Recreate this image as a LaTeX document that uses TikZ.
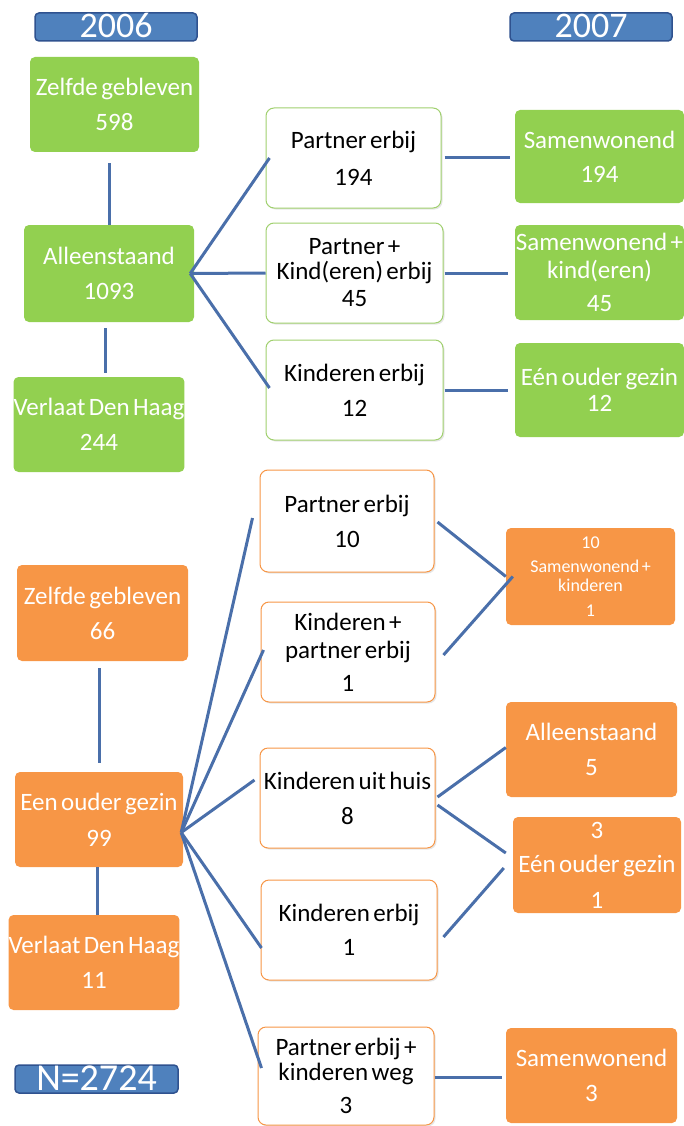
\documentclass[tikz,border=0pt]{standalone}
\usepackage{fontspec}
\setmainfont{Carlito}[WordSpace=0.6]
\usetikzlibrary{calc,shadows}
\definecolor{gr}{RGB}{146,208,80}
\definecolor{orng}{RGB}{247,150,70}
\definecolor{hdr}{RGB}{79,129,189}
\definecolor{hdrb}{RGB}{47,82,143}
\definecolor{ln}{RGB}{74,111,170}
\definecolor{grb}{RGB}{160,208,110}
\tikzset{
 base/.style={rectangle, rounded corners=5pt, align=center, inner sep=0pt, font=\fontsize{25}{26}\selectfont},
 gbox/.style={base, fill=gr, text=white},
 obox/.style={base, fill=orng, text=white},
 wbox/.style={base, fill=white, line width=1pt, rounded corners=8pt, text=black,
   drop shadow={opacity=0.2, shadow xshift=1.5pt, shadow yshift=-1.5pt}},
 wg/.style={wbox, draw=grb},
 wo/.style={wbox, draw=orng},
 hbox/.style={rectangle, rounded corners=4pt, fill=hdr, draw=hdrb, line width=1.5pt, text=white,
   font=\fontsize{36}{36}\selectfont, inner sep=0pt},
 conn/.style={draw=ln, line width=3pt},
}
\begin{document}
\begin{tikzpicture}[x=1pt,y=-1pt]
\useasboundingbox (0,0) rectangle (684,1126);
% headers
\node[hbox, minimum width=162pt, minimum height=28pt] (h06) at (116,27) {\raisebox{3pt}{2006}};
\node[hbox, minimum width=162pt, minimum height=28pt] (h07) at (591,27) {\raisebox{3pt}{2007}};
\node[hbox, minimum width=163pt, minimum height=28pt, font=\fontsize{38}{38}\selectfont] (hN) at (96.5,1079) {\raisebox{2pt}{N=2724}};
% upper left
\node[gbox, minimum width=169pt, minimum height=95pt] (zg) at (114.5,104.5) {Zelfde gebleven\\[9pt]598};
\node[gbox, minimum width=170pt, minimum height=97pt] (alle) at (109,273.5) {Alleenstaand\\[9pt]1093};
\node[gbox, minimum width=168pt, minimum height=95pt] (vl) at (99,424.5) {Verlaat Den Haag\\[9pt]244};
% upper middle
\node[wg, minimum width=175pt, minimum height=100pt] (pe) at (353.5,158) {Partner erbij\\[11pt]194};
\node[wg, minimum width=177pt, minimum height=100pt] (pk45) at (354.5,273) {Partner +\\[-1pt]Kind(eren) erbij\\[1pt]45};
\node[wg, minimum width=177pt, minimum height=100pt] (ke12) at (354.5,390) {Kinderen erbij\\[9pt]12};
% upper right
\node[gbox, minimum width=169pt, minimum height=93pt] (sw) at (599.5,156.5) {Samenwonend\\[8pt]194};
\node[gbox, minimum width=169pt, minimum height=95pt] (swk) at (599.5,272.5) {Samenwonend +\\[2pt]kind(eren)\\[7pt]45};
\node[gbox, minimum width=169pt, minimum height=94pt] (eo12) at (599.5,390) {Eén ouder gezin\\[0pt]12};
% lower left
\node[obox, minimum width=171pt, minimum height=96pt] (zg66) at (102.5,613) {Zelfde gebleven\\[9pt]66};
\node[obox, minimum width=168pt, minimum height=95pt] (eo99) at (99,819.5) {Een ouder gezin\\[10pt]99};
\node[obox, minimum width=170pt, minimum height=95pt] (vl11) at (94,962.5) {Verlaat Den Haag\\[9pt]11};
% lower middle
\node[wo, minimum width=174pt, minimum height=102pt] (pe10) at (347,521) {Partner erbij\\[9pt]10};
\node[wo, minimum width=174pt, minimum height=100pt] (kp1) at (348,652) {Kinderen +\\[2pt]partner erbij\\[7pt]1};
\node[wo, minimum width=175pt, minimum height=100pt] (kuh) at (347.5,798) {Kinderen uit huis\\[9pt]8};
\node[wo, minimum width=176pt, minimum height=100pt] (ke1) at (349,930) {Kinderen erbij\\[8pt]1};
\node[wo, minimum width=176pt, minimum height=98pt] (pkw) at (346,1076) {Partner erbij +\\[-1pt]kinderen weg\\[7pt]3};
% lower right
\node[obox, minimum width=169pt, minimum height=97pt, font=\fontsize{18}{19}\selectfont] (swk10) at (590.5,576.5) {10\\[5pt]Samenwonend +\\[0pt]kinderen\\[6pt]1};
\node[obox, minimum width=171pt, minimum height=95pt] (al5) at (591.5,749.5) {Alleenstaand\\[9pt]5};
\node[obox, minimum width=168pt, minimum height=96pt] (eo3) at (597,865) {3\\[8pt]Eén ouder gezin\\[10pt]1};
\node[obox, minimum width=171pt, minimum height=95pt] (sw3) at (591.5,1075.5) {Samenwonend\\[9pt]3};
% connectors upper
\draw[conn, shorten <=11pt] (alle.north |- zg.south) -- (alle.north);
\draw[conn, shorten <=6pt, shorten >=4pt] ($(alle.south)+(-4,0)$) -- ($(alle.south |- vl.north)+(-4,0)$);
\draw[conn] ($(alle.east)+(-4,0)$) -- ($(pe.west)+(4,0)$);
\draw[conn] ($(alle.east)+(-4,0)$) -- (pk45.west);
\draw[conn] ($(alle.east)+(-4,0)$) -- ($(ke12.west)+(4,-2)$);
\draw[conn, shorten <=3pt, shorten >=5pt] (pe.east) -- (pe.east -| sw.west);
\draw[conn, shorten <=1pt, shorten >=7pt] (pk45.east) -- (pk45.east -| swk.west);
\draw[conn, shorten <=1pt, shorten >=7pt] (ke12.east) -- (ke12.east -| eo12.west);
% connectors lower
\draw[conn, shorten <=7pt] (zg66.south -| eo99.north) -- ($(eo99.north)+(0,-9)$);
\draw[conn] ($(eo99.south)+(-2,0)$) -- ($(vl11.north)+(3,0)$);
\coordinate (fan) at ($(eo99.east)+(-2,13)$);
\draw[conn] (fan) -- ($(pe10.west)+(-7,-3)$);
\draw[conn] (fan) -- ($(kp1.west)+(3,-2)$);
\draw[conn] (fan) -- ($(kuh.west)+(-5,-18)$);
\draw[conn] (fan) -- ($(ke1.west)+(1,18)$);
\draw[conn] (fan) -- ($(pkw.west)+(4,-8)$);
\draw[conn] ($(pe10.east)+(3,1)$) -- (swk10.west);
\draw[conn] ($(kp1.east)+(8,3)$) -- ($(swk10.west)+(7,0)$);
\draw[conn] ($(kuh.east)+(2,-1)$) -- ($(al5.west)+(0,-2)$);
\draw[conn] ($(kuh.east)+(2,7)$) -- ($(eo3.west)+(-7,-12)$);
\draw[conn] ($(ke1.east)+(6,7)$) -- ($(eo3.west)+(-9,3)$);
\draw[conn] ($(pkw.east)+(0,1)$) -- ($(sw3.west)+(-4,1.5)$);
\end{tikzpicture}
\end{document}
